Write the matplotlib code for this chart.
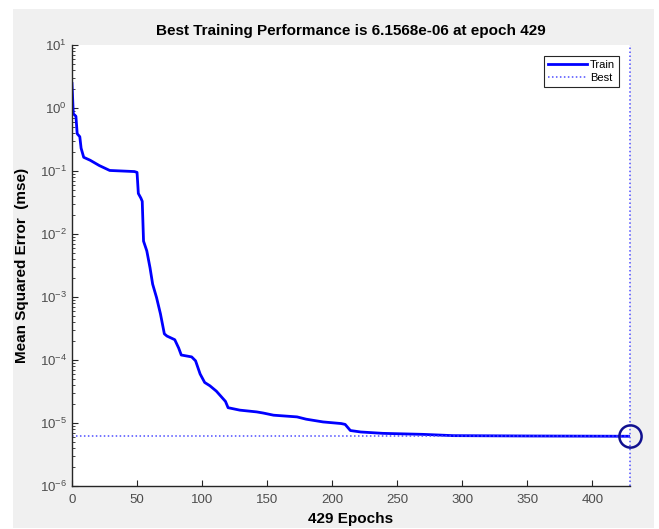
import numpy as np
import matplotlib
matplotlib.use('Agg')
import matplotlib.pyplot as plt
from matplotlib.patches import Rectangle

plt.rcParams['font.family'] = ['Liberation Sans', 'DejaVu Sans']
plt.rcParams['mathtext.fontset'] = 'custom'
plt.rcParams['mathtext.rm'] = 'Liberation Sans'
plt.rcParams['mathtext.it'] = 'Liberation Sans:italic'
plt.rcParams['mathtext.bf'] = 'Liberation Sans:bold'

# training record
epochs = [0, 1, 3, 4, 6, 7, 9, 14, 21, 29, 48, 50, 51, 53, 54, 55, 57.5, 60, 62,
          65, 68, 71, 73, 79, 82, 84, 92, 95, 98.5, 102, 106, 111, 118, 120, 129,
          142, 147, 155, 173, 180, 193, 207, 210, 214, 222, 239, 270, 293, 350, 429]
mse = [2.45, 0.81, 0.74, 0.39, 0.35, 0.23, 0.165, 0.148, 0.122, 0.102, 0.098,
       0.095, 0.044, 0.037, 0.033, 0.0077, 0.0054, 0.0029, 0.0016, 0.00098,
       0.00054, 0.00026, 0.00024, 0.00021, 0.000155, 0.00012, 0.000112, 9.7e-5,
       6.0e-5, 4.4e-5, 3.9e-5, 3.2e-5, 2.2e-5, 1.75e-5, 1.6e-5, 1.5e-5, 1.44e-5,
       1.33e-5, 1.25e-5, 1.15e-5, 1.04e-5, 9.8e-6, 9.5e-6, 7.6e-6, 7.2e-6,
       6.85e-6, 6.6e-6, 6.3e-6, 6.22e-6, 6.1568e-6]
best_epoch = 429
best_perf = 6.1568e-06
xticks = [0, 50, 100, 150, 200, 250, 300, 350, 400]
yticks = [1e-6, 1e-5, 1e-4, 1e-3, 1e-2, 1e-1, 1e0, 1e1]

gray = '#f0f0f0'
fig = plt.figure(figsize=(6.59, 5.29), dpi=100, facecolor='white')
bg = Rectangle((13 / 659, 1 / 529), 641 / 659, 519 / 529,
               transform=fig.transFigure, facecolor=gray, edgecolor='none',
               zorder=-10)
fig.add_artist(bg)

ax = fig.add_axes([72 / 659, 43 / 529, 558 / 659, 441 / 529])
ax.set_facecolor('white')

best_style = dict(color='#4d4dff', linestyle=(0, (1, 1.6)), linewidth=1.1)
ax.semilogy(epochs, mse, color='#0000ff', linewidth=2, label='Train')
ax.axhline(best_perf, label='Best', **best_style)
ax.axvline(best_epoch, clip_on=False, **best_style)
ax.plot(best_epoch, best_perf, 'o', markersize=16, markerfacecolor='none',
        markeredgecolor='#10108f', markeredgewidth=1.8, clip_on=False)

ax.set_xlim(0, best_epoch)
ax.set_ylim(1e-6, 10)
ax.set_xticks(xticks)
ax.set_yticks(yticks)

for side in ['top', 'right']:
    ax.spines[side].set_visible(False)
for side in ['left', 'bottom']:
    ax.spines[side].set_color('#262626')
    ax.spines[side].set_linewidth(1.0)

ax.tick_params(which='both', direction='in', colors='#262626',
               labelcolor='#4d4d4d', labelsize=9.5)
ax.tick_params(which='major', length=4.5)
ax.tick_params(which='minor', length=2.5)
ax.tick_params(axis='x', pad=6)

ax.set_title('Best Training Performance is 6.1568e-06 at epoch 429',
             fontsize=11, fontweight='bold', pad=7)
ax.set_xlabel('429 Epochs', fontsize=11, fontweight='bold', labelpad=4)
ax.set_ylabel('Mean Squared Error  (mse)', fontsize=11, fontweight='bold',
              labelpad=8)

leg = ax.legend(loc='upper right', fontsize=8, fancybox=False,
                edgecolor='#262626', framealpha=1, handlelength=3.5,
                borderaxespad=1.0, handletextpad=0.3, borderpad=0.35,
                labelspacing=0.25)
leg.get_frame().set_linewidth(0.8)

fig.savefig('out.png', dpi=100, facecolor='white')
